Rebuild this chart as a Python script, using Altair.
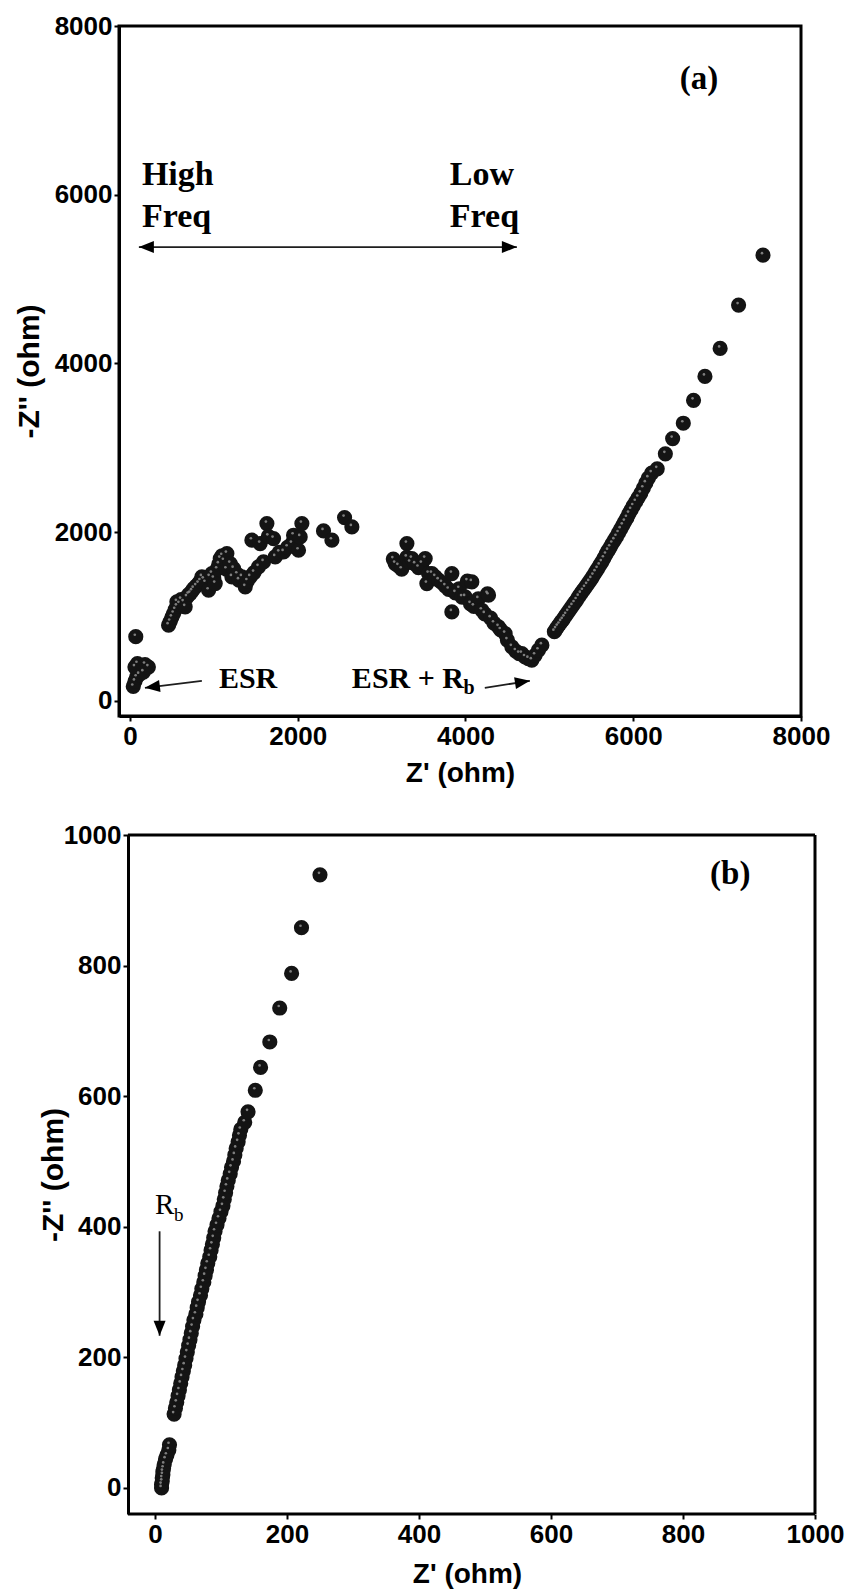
import altair as alt
import pandas as pd

# ---------------- panel (a) data : Z' and -Z'' in ohm ----------------
ESR_X = [40, 60, 80, 110, 160, 220, 180, 90, 60, 70]
ESR_Y = [170, 230, 280, 310, 340, 400, 430, 440, 400, 760]

ARC1_X = [461, 480, 500, 521, 540, 560, 560, 590, 610, 640,
          659, 680, 700, 719, 740, 760, 790, 818, 840, 858,
          880, 900, 938, 950, 977, 1000, 1017, 1040, 1060, 1077,
          1100, 1120, 1156, 1150, 1196, 1216, 1236, 1280, 1300, 1335,
          1375, 1400, 1434, 1480, 1533, 1593, 1454, 1553, 1633, 1650,
          1712, 1732, 1780, 1832, 1880, 1931, 1951, 2010, 2030, 2050,
          2308, 2408, 2559, 2646]
ARC1_Y = [897, 940, 990, 1035, 1080, 1120, 1173, 1150, 1200, 1170,
          1114, 1230, 1260, 1271, 1300, 1330, 1360, 1390, 1420, 1469,
          1440, 1400, 1311, 1470, 1508, 1450, 1390, 1560, 1620, 1686,
          1720, 1660, 1745, 1560, 1627, 1469, 1567, 1500, 1430, 1469,
          1351, 1420, 1469, 1520, 1588, 1647, 1904, 1864, 2101, 1950,
          1923, 1706, 1760, 1765, 1820, 1864, 1963, 1785, 1943, 2101,
          2014, 1904, 2172, 2062]

ARC2_X = [3140, 3162, 3200, 3240, 3302, 3300, 3340, 3361, 3400, 3440,
          3480, 3520, 3540, 3560, 3600, 3640, 3680, 3720, 3760, 3800,
          3838, 3838, 3880, 3926, 3960, 3996, 4023, 4060, 4076, 4100,
          4153, 4195, 4230, 4263, 4275, 4300, 4340, 4394, 4420, 4473,
          4500, 4553, 4600, 4640, 4672, 4710, 4750, 4791, 4830, 4870,
          4911]
ARC2_Y = [1680, 1627, 1600, 1560, 1864, 1700, 1640, 1686, 1620, 1580,
          1627, 1686, 1390, 1508, 1508, 1470, 1430, 1400, 1360, 1320,
          1508, 1054, 1280, 1329, 1230, 1232, 1419, 1150, 1410, 1120,
          1208, 1074, 1030, 1268, 1252, 980, 920, 877, 840, 797,
          720, 640, 590, 560, 560, 520, 500, 482, 540, 600,
          660]

TAIL_X = [5060, 5080, 5100, 5120, 5140, 5160, 5180, 5200, 5225, 5250,
          5275, 5300, 5325, 5350, 5375, 5400, 5425, 5450, 5475, 5500,
          5525, 5550, 5575, 5600, 5625, 5650, 5675, 5700, 5725, 5750,
          5775, 5800, 5825, 5850, 5875, 5900, 5925, 5950, 5975, 6000,
          6030, 6060, 6090, 6120, 6150, 6180, 6220, 6286, 6383, 6470,
          6597, 6719, 6855, 7036, 7256, 7547]
TAIL_Y = [820, 850, 880, 905, 935, 960, 990, 1020, 1055, 1090,
          1125, 1160, 1195, 1235, 1270, 1305, 1340, 1375, 1410, 1445,
          1485, 1525, 1565, 1605, 1645, 1690, 1735, 1780, 1820, 1865,
          1905, 1945, 1990, 2035, 2080, 2125, 2170, 2220, 2265, 2310,
          2360, 2410, 2460, 2520, 2580, 2640, 2700, 2750, 2928, 3109,
          3291, 3562, 3846, 4178, 4691, 5283]

# ---------------- panel (b) data ----------------
B_LOW_X = [10, 10, 11, 11, 12, 12, 13, 14, 16, 18, 21, 22]
B_LOW_Y = [0, 5, 10, 15, 20, 25, 30, 36, 44, 50, 58, 66]
B_BAND_X = [29, 31, 33, 35, 37, 39, 41, 43, 45, 47, 49, 51, 53, 55, 57, 59,
            62, 64, 66, 69, 71, 74, 76, 78, 80,
            83, 85, 87, 89, 91, 94, 97, 100, 103, 105,
            107, 109, 111, 114, 116, 119, 121, 123, 126, 128,
            130, 136, 141, 152, 160, 174, 189, 207, 222, 250]
B_BAND_Y = [113, 122, 131, 141, 150, 160, 170, 179, 188, 198, 208, 218, 227, 237, 247, 257,
            266, 276, 285, 295, 305, 315, 325, 334, 344,
            354, 364, 373, 383, 393, 403, 413, 423, 432, 442,
            452, 462, 471, 481, 491, 500, 510, 520, 530, 540,
            549, 560, 576, 609, 644, 683, 735, 788, 858, 939]

# ---------------- axes ----------------
A_XTICKS = [0, 2000, 4000, 6000, 8000]
A_YTICKS = [0, 2000, 4000, 6000, 8000]
B_TICKS = [0, 200, 400, 600, 800, 1000]
A_XDOM = [-130, 8000]
A_YDOM = [-180, 8000]
B_XDOM = [-54.5, 1000]      # scale range starts a little left of the frame
B_YDOM = [-40, 1000]
B_FRAME_X = [-41, 1000]     # left / right edge of the (b) frame
B_FRAME_Y = [-40, 1000]

# ---------------- annotations ----------------
A_TEXT = ["High", "Freq", "Low", "Freq"]
A_TEXT_X = [143, 143, 3814, 3814]
A_TEXT_Y = [6232, 5740, 6232, 5740]
A_ESR = ["ESR", "ESR + R"]
A_ESR_X = [1061, 2646]
A_ESR_Y = [264, 264]
A_TAG = ["(a)"]
A_TAG_X = [6555]
A_TAG_Y = [7375]
A_SUB = ["b"]
A_SUB_X = [3977]
A_SUB_Y = [154]
A_LINE_X = [107, 858, 4231]
A_LINE_Y = [5379, 237, 154]
A_LINE_X2 = [4613, 179, 4768]
A_LINE_Y2 = [5379, 154, 237]
A_HEAD_X = [107, 4613, 179, 4768]
A_HEAD_Y = [5379, 5379, 154, 237]
A_HEAD_ANG = [180, 0, 173, 351]

B_TAG = ["(b)"]
B_TAG_X = [841]
B_TAG_Y = [940]
B_R = ["R"]
B_R_X = [0]
B_R_Y = [433]
B_SUB = ["b"]
B_SUB_X = [29]
B_SUB_Y = [418]
B_LINE_X = [7]
B_LINE_Y = [393]
B_LINE_Y2 = [233]
B_HEAD_ANG = [90]

ARROW = "M0,0 L-2,-0.8 L-2,0.8 Z"

AX = dict(labelFont="Liberation Sans", labelFontWeight="bold", labelFontSize=26,
          labelColor="black", titleFont="Liberation Sans", titleFontWeight="bold",
          titleColor="black", domainColor="black", domainWidth=3,
          tickColor="black", tickWidth=2, tickSize=5, grid=False, labelFlush=False,
          labelOverlap=False, format="d", titleBaseline="middle", labelPadding=2)


def panel(pts, xdom, ydom, xticks, yticks, w, h, title_x, title_y_x, texts,
          lines, heads, yoffset=0, xdomain=True, frame=None):
    xa = alt.X("x:Q", scale=alt.Scale(domain=xdom, nice=False, zero=False),
               axis=alt.Axis(values=xticks, title="Z' (ohm)", titleY=title_x,
                             titleFontSize=28, domain=xdomain, **AX))
    ya = alt.Y("y:Q", scale=alt.Scale(domain=ydom, nice=False, zero=False),
               axis=alt.Axis(values=yticks, title="-Z'' (ohm)", titleX=title_y_x,
                             titleY=h / 2, titleAngle=270, titleFontSize=30,
                             offset=yoffset, **AX))
    layers = []
    if frame is not None:
        layers.append(alt.Chart(frame).mark_rule(color="black", strokeWidth=3)
                      .encode(x=xa, y=ya, x2="x2:Q", y2="y2:Q"))
    layers.append(alt.Chart(pts).mark_circle(size=230, color="#141414", opacity=1)
                  .encode(x=xa, y=ya))
    layers.append(alt.Chart(pts).mark_circle(size=7, color="#8a8a8a", opacity=0.9,
                                             xOffset=-1, yOffset=-2).encode(x=xa, y=ya))
    layers.append(alt.Chart(lines).mark_rule(color="#1e1e1e", strokeWidth=1.8)
                  .encode(x=xa, y=ya, x2="x2:Q", y2="y2:Q"))
    layers.append(alt.Chart(heads).mark_point(shape=ARROW, filled=True, size=225,
                                              color="black", opacity=1, strokeWidth=0)
                  .encode(x=xa, y=ya, angle=alt.Angle("ang:Q", scale=None)))
    for df, fs, wt in texts:
        layers.append(alt.Chart(df).mark_text(align="left", baseline="middle",
                                              font="Liberation Serif", fontWeight=wt,
                                              fontSize=fs, color="black")
                      .encode(x=xa, y=ya, text="t:N"))
    return alt.layer(*layers).properties(width=w, height=h)


def tdf(t, x, y):
    return pd.DataFrame({"t": t, "x": x, "y": y})


pts_a = pd.DataFrame({"x": ESR_X + ARC1_X + ARC2_X + TAIL_X,
                      "y": ESR_Y + ARC1_Y + ARC2_Y + TAIL_Y})
lines_a = pd.DataFrame({"x": A_LINE_X, "y": A_LINE_Y, "x2": A_LINE_X2, "y2": A_LINE_Y2})
heads_a = pd.DataFrame({"x": A_HEAD_X, "y": A_HEAD_Y, "ang": A_HEAD_ANG})
texts_a = [(tdf(A_TEXT, A_TEXT_X, A_TEXT_Y), 34, "bold"),
           (tdf(A_ESR, A_ESR_X, A_ESR_Y), 30, "bold"),
           (tdf(A_TAG, A_TAG_X, A_TAG_Y), 33, "bold"),
           (tdf(A_SUB, A_SUB_X, A_SUB_Y), 20, "bold")]

pa = panel(pts_a, A_XDOM, A_YDOM, A_XTICKS, A_YTICKS, 682, 690, 57, -90,
           texts_a, lines_a, heads_a)

pts_b = pd.DataFrame({"x": B_LOW_X + B_BAND_X, "y": B_LOW_Y + B_BAND_Y})
lines_b = pd.DataFrame({"x": B_LINE_X, "y": B_LINE_Y, "x2": B_LINE_X, "y2": B_LINE_Y2})
heads_b = pd.DataFrame({"x": B_LINE_X, "y": B_LINE_Y2, "ang": B_HEAD_ANG})
texts_b = [(tdf(B_TAG, B_TAG_X, B_TAG_Y), 33, "bold"),
           (tdf(B_R, B_R_X, B_R_Y), 29, "normal"),
           (tdf(B_SUB, B_SUB_X, B_SUB_Y), 19, "normal")]
frame_b = pd.DataFrame({
    "x": [B_FRAME_X[0], B_FRAME_X[0], B_FRAME_X[1]],
    "x2": [B_FRAME_X[1], B_FRAME_X[1], B_FRAME_X[1]],
    "y": [B_FRAME_Y[0], B_FRAME_Y[1], B_FRAME_Y[0]],
    "y2": [B_FRAME_Y[0], B_FRAME_Y[1], B_FRAME_Y[1]],
})

pb = panel(pts_b, B_XDOM, B_YDOM, B_TICKS, B_TICKS, 696, 679, 60, -75,
           texts_b, lines_b, heads_b, yoffset=-9, xdomain=False, frame=frame_b)
pb = pb.properties(view=alt.ViewBackground(strokeOpacity=0))

chart = alt.vconcat(pa, pb, spacing=33).properties(
    padding={"left": 12, "top": 11, "right": 5, "bottom": 5}
).configure_view(stroke="black", strokeWidth=3)

chart.save("out.html", embed_options={"renderer": "svg", "actions": False})
